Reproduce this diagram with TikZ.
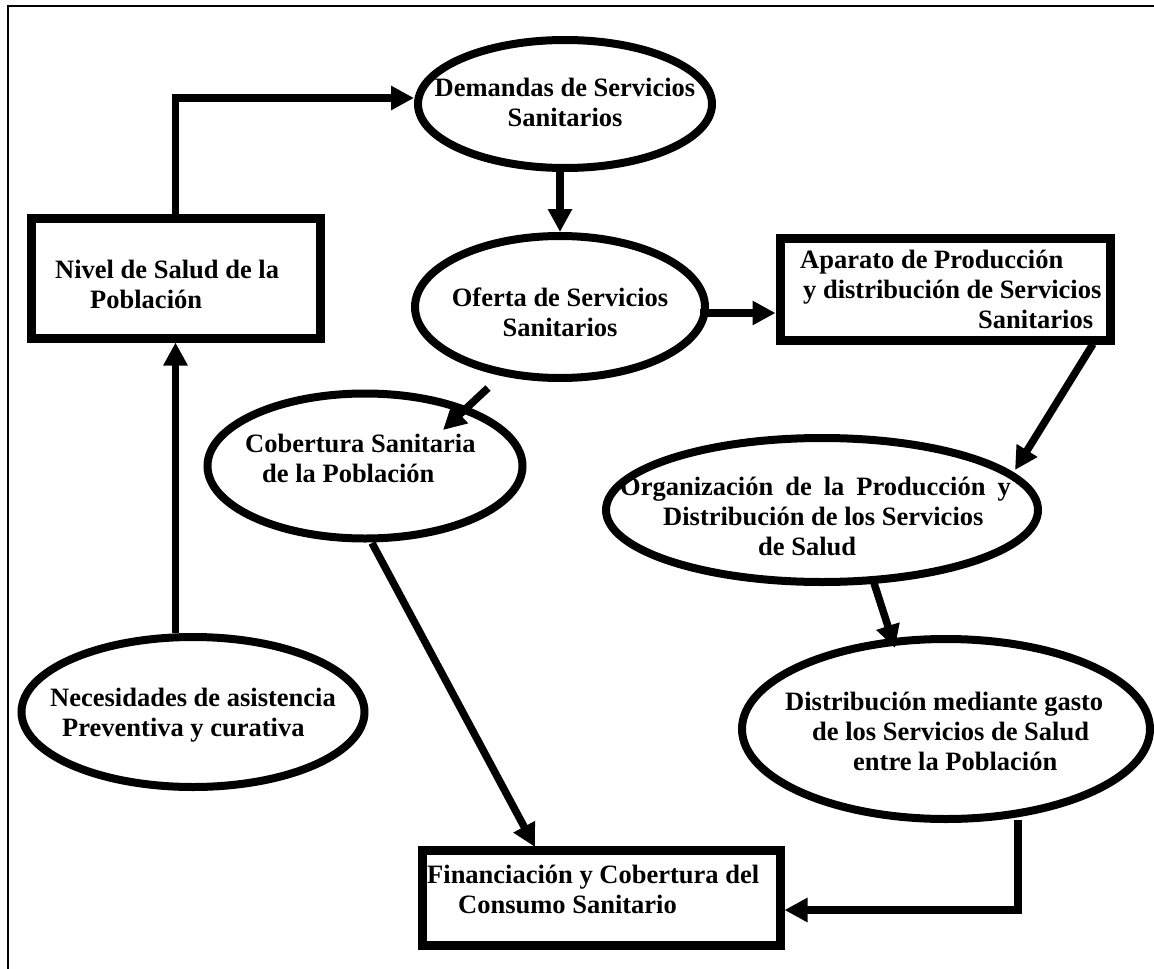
\documentclass[tikz,border=0pt]{standalone}
\usepackage{fontspec}
\setmainfont{Liberation Serif}
\usetikzlibrary{shapes.geometric,arrows.meta}
\begin{document}
\begin{tikzpicture}[x=1pt,y=-1pt,
  every node/.style={font=\fontsize{26.5}{30}\selectfont\bfseries},
  oval/.style={draw, ellipse, line width=8pt, inner sep=0pt},
  box/.style={draw, rectangle, line width=9pt, inner sep=0pt},
  txt/.style={align=center, inner sep=0pt, anchor=base},
  ltxt/.style={align=left, inner sep=0pt, anchor=base west},
  arr/.style={line width=7.5pt, -{Triangle[length=23pt 0, width=23pt 0]}}]
\useasboundingbox (0,0) rectangle (1154,969);
\clip (0,0) rectangle (1154,969);
% outer frame
\draw[line width=2pt] (8,1000) -- (8,6) -- (1200,6);

% shapes
\node[oval, minimum width=294pt, minimum height=128pt] (dem) at (565,104) {};
\node[oval, minimum width=290pt, minimum height=142pt] (ofe) at (560,307) {};
\node[box, minimum width=330pt, minimum height=102pt] (apa) at (945,289) {};
\node[box, minimum width=289pt, minimum height=120pt] (niv) at (175.5,278) {};
\node[oval, minimum width=315pt, minimum height=145pt] (cob) at (365,466) {};
\node[oval, minimum width=432pt, minimum height=144pt] (org) at (822,510) {};
\node[oval, minimum width=408pt, minimum height=180pt] (dis) at (946,729) {};
\node[oval, minimum width=343pt, minimum height=150pt] (nec) at (193,712) {};
\node[box, minimum width=358pt, minimum height=95pt] (fin) at (601,898) {};

% texts (anchored on the baseline of their last line)
\node[txt] (demT) at (565,126) {Demandas de Servicios\\Sanitarios};
\node[txt] (ofeT) at (560,336) {Oferta de Servicios\\Sanitarios};
\node[ltxt] (apaT) at (800,328) {Aparato de Producción\\\hspace*{3pt}y distribución de Servicios\\\hspace*{178pt}Sanitarios};
\node[ltxt] (nivT) at (55,308) {Nivel de Salud de la\\\hspace*{35pt}Población};
\node[ltxt] (cobT) at (245,482) {Cobertura Sanitaria\\\hspace*{17pt}de la Población};
\node[ltxt] (orgT) at (620,555) {Organización\hspace{12pt}de\hspace{12pt}la\hspace{12pt}Producción\hspace{12pt}y\\\hspace*{43pt}Distribución de los Servicios\\\hspace*{138pt}de Salud};
\node[ltxt] (disT) at (785,770) {Distribución mediante gasto\\\hspace*{27pt}de los Servicios de Salud\\\hspace*{68pt}entre la Población};
\node[ltxt] (necT) at (50,736) {Necesidades de asistencia\\\hspace*{12pt}Preventiva y curativa};
\node[ltxt] (finT) at (427,913) {Financiación y Cobertura del\\\hspace*{31pt}Consumo Sanitario};

% connector end points
\coordinate (ofeR) at (700,313);
\coordinate (ofeOut) at (488,388);
\coordinate (cobIn) at (443,430);
\coordinate (cobOut) at (372,543);
\coordinate (finIn) at (535,847);
\coordinate (apaOut) at (1093,344);
\coordinate (orgIn) at (1015,470);
\coordinate (orgOut) at (873,580);
\coordinate (disIn) at (895,648);
\coordinate (disOut) at (1018,820);

% connectors
\draw[arr] (niv.north) |- ([yshift=6pt]dem.west);
\draw[arr] (dem.south -| 560,0) -- (ofe.north);
\draw[arr] (ofeR) -- (ofeR -| apa.west);
\draw[arr] (ofeOut) -- (cobIn);
\draw[arr] (nec.north -| niv.south) -- (niv.south);
\draw[arr] (cobOut) -- (finIn);
\draw[arr] (apaOut) -- (orgIn);
\draw[arr] (orgOut) -- (disIn);
\draw[arr] (disOut) |- ([yshift=-12pt]fin.east);
\end{tikzpicture}
\end{document}
